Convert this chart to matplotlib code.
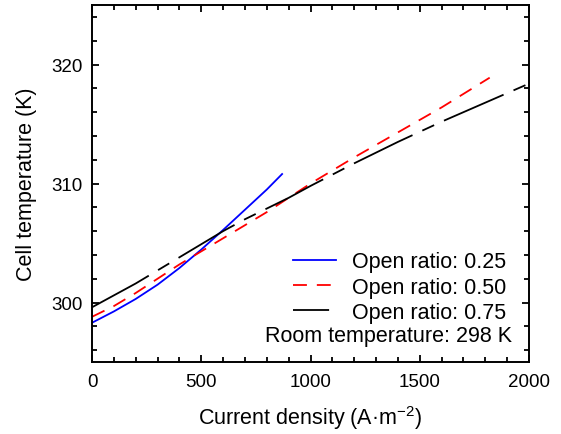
import matplotlib
matplotlib.use("Agg")
import matplotlib.pyplot as plt
from matplotlib.lines import Line2D
from matplotlib.ticker import MultipleLocator

plt.rcParams['font.family'] = ['Liberation Sans', 'DejaVu Sans']

# open ratio 0.25
x_025 = [0, 100, 200, 300, 400, 500, 600, 700, 800, 870]
t_025 = [298.3, 299.25, 300.3, 301.5, 302.9, 304.45, 306.1, 307.8, 309.5, 310.8]

# open ratio 0.50
x_050 = [0, 100, 200, 300, 400, 500, 600, 700, 800, 900, 1000, 1200, 1400, 1600, 1820]
t_050 = [298.8, 299.7, 300.8, 302.0, 303.2, 304.3, 305.4, 306.5, 307.6, 308.8, 310.0,
         312.2, 314.3, 316.4, 318.9]

# open ratio 0.75
x_075 = [0, 100, 200, 300, 400, 500, 600, 700, 800, 900, 1000, 1200, 1400, 1600, 1800, 2000]
t_075 = [299.6, 300.6, 301.6, 302.7, 303.8, 304.9, 306.0, 307.0, 307.9, 308.8, 309.8,
         311.7, 313.5, 315.2, 316.8, 318.4]

labels = ['Open ratio: 0.25', 'Open ratio: 0.50', 'Open ratio: 0.75']
room_text = 'Room temperature: 298 K'

fig = plt.figure(figsize=(5.61, 4.35), dpi=100)
ax = fig.add_axes([0.164, 0.1655, 0.779, 0.8205])

lw = 1.3
ax.plot(x_025, t_025, color='#0000ff', lw=lw)
ax.plot(x_050, t_050, color='#ff0000', lw=lw, linestyle=(0, (7.7, 5.5)))
ax.plot(x_075, t_075, color='black', lw=lw, linestyle=(0, (36, 6, 7.2, 6)))

ax.set_xlim(0, 2000)
ax.set_ylim(295, 325)
ax.xaxis.set_major_locator(MultipleLocator(500))
ax.xaxis.set_minor_locator(MultipleLocator(100))
ax.yaxis.set_major_locator(MultipleLocator(10))
ax.yaxis.set_minor_locator(MultipleLocator(2))

for s in ax.spines.values():
    s.set_linewidth(1.4)
ax.tick_params(which='both', direction='in', top=True, right=True, width=1.3)
ax.tick_params(which='major', length=5, labelsize=13.5)
ax.tick_params(which='minor', length=3.5)
ax.tick_params(axis='x', pad=8)
ax.tick_params(axis='y', pad=7)

ax.set_xlabel('Current density (A·m$^{\\mathregular{-2}}$)', fontsize=15.5)
ax.set_ylabel('Cell temperature (K)', fontsize=15.5)
ax.xaxis.set_label_coords(0.5, -0.115)
ax.yaxis.set_label_coords(-0.127, 0.5)

handles = [
    Line2D([], [], color='#0000ff', lw=lw),
    Line2D([], [], color='#ff0000', lw=lw, linestyle=(0, (7.7, 5.5))),
    Line2D([], [], color='black', lw=lw, linestyle=(0, (20, 4, 0.8, 6))),
]
ax.legend(handles, labels, loc='upper left', bbox_to_anchor=(0.46, 0.31),
          frameon=False, fontsize=15.5, handlelength=2.0, handletextpad=0.75,
          labelspacing=0.2, borderpad=0, borderaxespad=0)
ax.text(0.961, 0.073, room_text, transform=ax.transAxes, ha='right', va='center',
        fontsize=15.5)

fig.savefig('out.png', dpi=100)
